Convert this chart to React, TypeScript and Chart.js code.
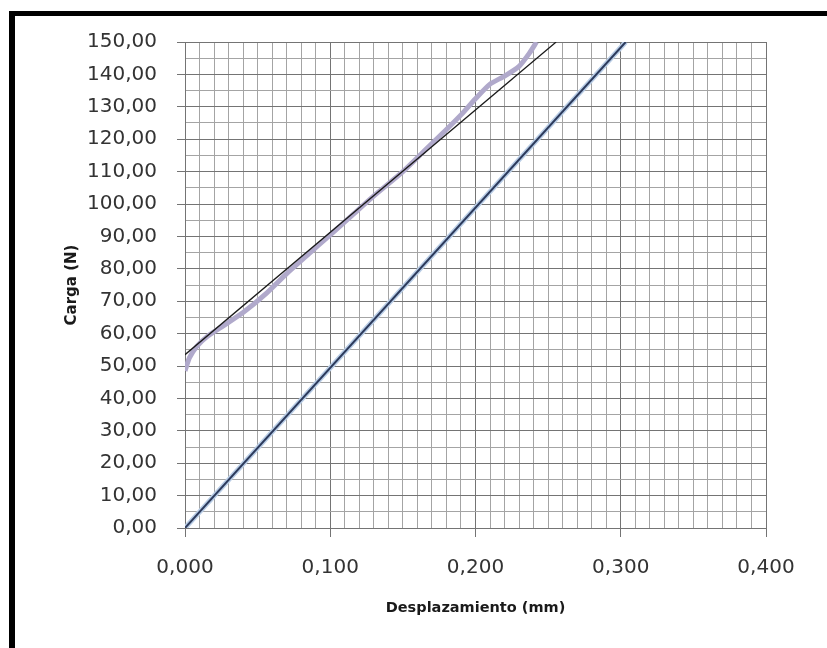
import React, { useEffect, useRef } from 'react';
import { Chart, registerables } from 'chart.js';

Chart.register(...registerables);

// Experimental load-displacement curve (purple-grey)
const curveX = [0, 0.003, 0.008, 0.015, 0.025, 0.04, 0.055, 0.07, 0.085, 0.1, 0.115, 0.13, 0.15, 0.165, 0.18, 0.19, 0.2, 0.21, 0.22, 0.23, 0.237, 0.242];
const curveY = [48.5, 52.5, 56, 59, 62, 66.5, 72, 78.5, 84.5, 90.5, 96.5, 102.5, 110, 116.5, 123, 127.5, 132.5, 137, 139.5, 142.5, 146.5, 150];

// Linear fit of the curve (thin black)
const fitX = [0, 0.2555];
const fitY = [53.5, 150];

// Shifted straight line through origin (dark blue)
const lineX = [0, 0.3034];
const lineY = [0, 150];

const xMin = 0;
const xMax = 0.4;
const xMinorStep = 0.01;
const yMin = 0;
const yMax = 150;
const yMinorStep = 5;

const xTitle = 'Desplazamiento (mm)';
const yTitle = 'Carga (N)';

const toPts = (xs: number[], ys: number[]) => xs.map((x, i) => ({ x, y: ys[i] }));

const isMajorX = (v: number) => Math.round(v * 100) % 10 === 0;
const isMajorY = (v: number) => Math.round(v) % 10 === 0;

const MAJOR = '#747474';
const MINOR = '#a4a4a4';

export default function App() {
  const ref = useRef<HTMLCanvasElement | null>(null);

  useEffect(() => {
    if (!ref.current) return;
    const chart = new Chart(ref.current, {
      type: 'scatter',
      data: {
        datasets: [
          {
            data: toPts(fitX, fitY),
            showLine: true,
            borderColor: '#1a1a1a',
            borderWidth: 1.3,
            pointRadius: 0,
            order: 0,
          },
          {
            data: toPts(curveX, curveY),
            showLine: true,
            borderColor: '#b0a9cb',
            borderWidth: 5,
            pointRadius: 0,
            tension: 0.2,
            order: 1,
          },
          {
            data: toPts(lineX, lineY),
            showLine: true,
            borderColor: '#2c3a5c',
            borderWidth: 2,
            pointRadius: 0,
            order: 0,
          },
          {
            data: toPts(lineX, lineY),
            showLine: true,
            borderColor: '#b9cde6',
            borderWidth: 5,
            pointRadius: 0,
            order: 2,
          },
        ],
      },
      options: {
        responsive: false,
        animation: false,
        events: [],
        layout: { padding: { left: 0, top: 42, right: 61, bottom: 0 } },
        plugins: { legend: { display: false }, title: { display: false }, tooltip: { enabled: false } },
        scales: {
          x: {
            type: 'linear',
            min: xMin,
            max: xMax,
            afterFit: (s: any) => { s.height = 120; },
            ticks: {
              stepSize: xMinorStep,
              autoSkip: false,
              maxRotation: 0,
              minRotation: 0,
              padding: 19,
              color: '#333333',
              font: { family: 'DejaVu Sans', size: 20 },
              callback: (v: any) => (isMajorX(Number(v)) ? Number(v).toFixed(3).replace('.', ',') : ''),
            },
            grid: {
              color: (c: any) => (isMajorX(c.tick.value) ? MAJOR : MINOR),
              tickColor: (c: any) => (isMajorX(c.tick.value) ? MAJOR : 'rgba(0,0,0,0)'),
              lineWidth: 1,
              tickLength: 9,
            },
            border: { color: MAJOR, width: 1 },
            title: {
              display: true,
              text: xTitle,
              color: '#1a1a1a',
              font: { family: 'DejaVu Sans', size: 14.5, weight: 'bold' },
              padding: { top: 0, bottom: 31 },
            },
          },
          y: {
            type: 'linear',
            min: yMin,
            max: yMax,
            afterFit: (s: any) => { s.width = 185; },
            ticks: {
              stepSize: yMinorStep,
              autoSkip: false,
              padding: 20,
              color: '#333333',
              font: { family: 'DejaVu Sans', size: 20 },
              callback: (v: any) => (isMajorY(Number(v)) ? Number(v).toFixed(2).replace('.', ',') : ''),
            },
            grid: {
              color: (c: any) => (isMajorY(c.tick.value) ? MAJOR : MINOR),
              tickColor: (c: any) => (isMajorY(c.tick.value) ? MAJOR : 'rgba(0,0,0,0)'),
              lineWidth: 1,
              tickLength: 8,
            },
            border: { color: MAJOR, width: 1 },
            title: {
              display: true,
              text: yTitle,
              color: '#1a1a1a',
              font: { family: 'DejaVu Sans', size: 15, weight: 'bold' },
              padding: { top: 63, bottom: 0 },
            },
          },
        },
      },
    } as any);
    return () => chart.destroy();
  }, []);

  return (
    <div style={{ position: 'fixed', left: 0, top: 0, width: 827, height: 648, overflow: 'hidden', background: '#fff' }}>
      <canvas ref={ref} width={827} height={648} style={{ position: 'absolute', left: 0, top: 0, width: 827, height: 648 }} />
      <div
        style={{
          position: 'absolute',
          left: 9,
          top: 11,
          width: 900,
          height: 700,
          borderTop: '5px solid #000',
          borderLeft: '6px solid #000',
          boxSizing: 'border-box',
          pointerEvents: 'none',
        }}
      />
    </div>
  );
}
